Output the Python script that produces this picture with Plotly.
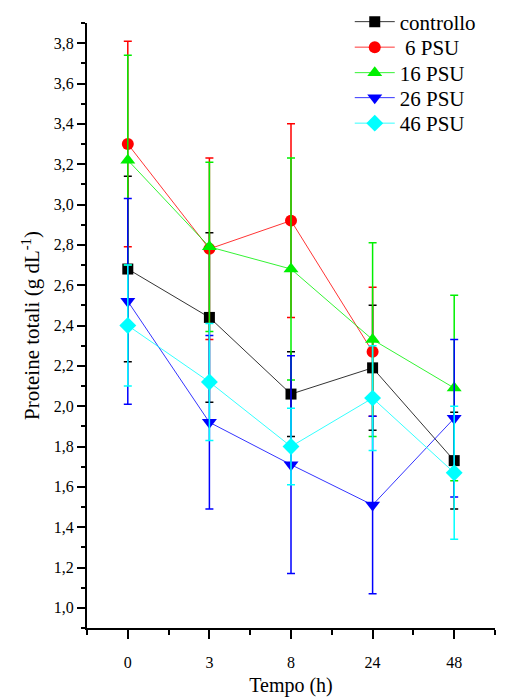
import plotly.graph_objects as go

categories = ["0", "3", "8", "24", "48"]

names = ["controllo", " 6 PSU", "16 PSU", "26 PSU", "46 PSU"]

controllo = [2.68, 2.44, 2.06, 2.19, 1.73]
controllo_err = [0.46, 0.42, 0.21, 0.31, 0.24]

psu6 = [3.30, 2.78, 2.92, 2.27, None]
psu6_err = [0.51, 0.45, 0.48, 0.32, None]

psu16 = [3.22, 2.79, 2.68, 2.33, 2.09]
psu16_err = [0.52, 0.42, 0.55, 0.48, 0.46]

psu26 = [2.52, 1.92, 1.71, 1.51, 1.94]
psu26_err = [0.51, 0.43, 0.54, 0.44, 0.39]

psu46 = [2.40, 2.12, 1.80, 2.04, 1.67]
psu46_err = [0.30, 0.29, 0.19, 0.26, 0.33]

series = [controllo, psu6, psu16, psu26, psu46]
errors = [controllo_err, psu6_err, psu16_err, psu26_err, psu46_err]
colors = ["#000000", "#ff0000", "#00f000", "#0000ff", "#00ffff"]
symbols = ["square", "circle", "triangle-up", "triangle-down", "diamond"]
sizes = [11, 12, 13, 13, 13]

FONT = "Times New Roman, Liberation Serif, DejaVu Serif, serif"

# plot area geometry (pixels) used to place one legend row per series
PLOT_TOP, PLOT_H = 23, 605
legend_rows_px = [22, 47.5, 73, 98, 123.5]

fig = go.Figure()
xs = list(range(len(categories)))
legend_keys = ["legend", "legend2", "legend3", "legend4", "legend5"]
for name, ys, err, col, sym, sz, lk in zip(names, series, errors, colors, symbols, sizes, legend_keys):
    fig.add_trace(go.Scatter(
        x=xs, y=ys, name=name, mode="lines+markers",
        line=dict(color=col, width=0.8),
        marker=dict(color=col, symbol=sym, size=sz, line=dict(width=0)),
        error_y=dict(type="data", array=err, visible=True, color=col,
                     thickness=1.5, width=4),
        connectgaps=False, legend=lk,
    ))

legend_layout = {}
for lk, py in zip(legend_keys, legend_rows_px):
    legend_layout[lk] = dict(
        x=0.644, y=(PLOT_TOP + PLOT_H - py) / PLOT_H, xanchor="left", yanchor="middle",
        font=dict(family=FONT, size=21, color="black"),
        bgcolor="rgba(0,0,0,0)", itemwidth=40,
    )

fig.update_layout(
    width=507, height=700,
    margin=dict(l=87, r=12, t=PLOT_TOP, b=700 - PLOT_TOP - PLOT_H, autoexpand=False),
    paper_bgcolor="white", plot_bgcolor="white",
    font=dict(family=FONT, size=16, color="black"),
    separators=",.",
    showlegend=True,
    xaxis=dict(
        range=[-0.5, 4.5], tickmode="array", tickvals=xs, ticktext=categories,
        showline=True, linecolor="black", linewidth=2, mirror=False,
        ticks="outside", ticklen=9, tickwidth=2, tickcolor="black",
        minor=dict(tick0=0.5, dtick=1, ticks="outside", ticklen=5,
                   tickwidth=2, tickcolor="black", showgrid=False),
        showgrid=False, zeroline=False, automargin=False,
        tickfont=dict(family=FONT, size=16),
        ticklabelstandoff=10,
        title=dict(text="Tempo (h)", font=dict(family=FONT, size=20), standoff=8),
    ),
    yaxis=dict(
        range=[0.9, 3.9], tickmode="linear", tick0=1.0, dtick=0.2, tickformat=".1f",
        showline=True, linecolor="black", linewidth=2, mirror=False,
        ticks="outside", ticklen=8, tickwidth=2, tickcolor="black",
        minor=dict(tick0=0.9, dtick=0.1, ticks="outside", ticklen=4,
                   tickwidth=2, tickcolor="black", showgrid=False),
        showgrid=False, zeroline=False, automargin=False,
        tickfont=dict(family=FONT, size=16),
        title=dict(text="Proteine totali (g dL<sup>-1</sup>)",
                   font=dict(family=FONT, size=21), standoff=8),
    ),
    **legend_layout,
)

fig.write_html("out.html")
